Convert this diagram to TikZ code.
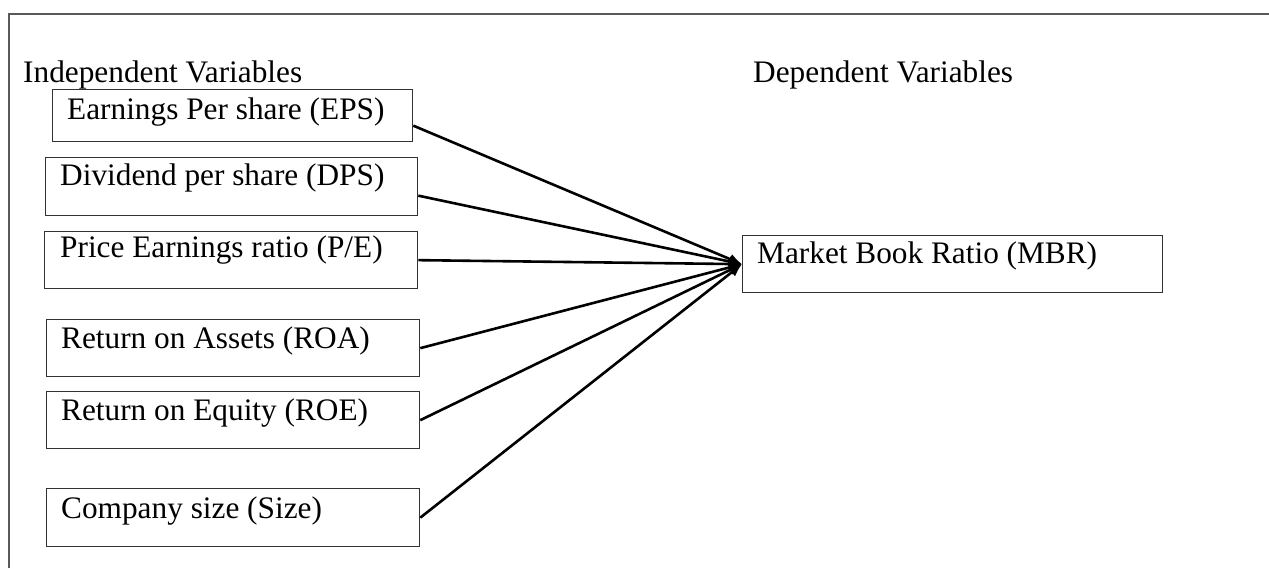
\documentclass[tikz,border=0pt]{standalone}
\usepackage{fontspec}
\setmainfont{Liberation Serif}
\usetikzlibrary{arrows.meta}
\begin{document}
\begin{tikzpicture}[x=1pt,y=-1pt,
  box/.style={draw=black!80, line width=1.3pt, rectangle, inner sep=0pt, anchor=north west},
  lbl/.style={inner sep=0pt, anchor=base west, font=\fontsize{31.3}{36}\selectfont},
  arr/.style={line width=2.6pt, -{Latex[length=13pt,width=11pt]}},
  frame/.style={draw=black!65, line width=1.6pt}]
\fill[white] (0,0) rectangle (1269,568);
\useasboundingbox (0,0) rectangle (1269,568);
% frame
\coordinate (ftl) at (9,14);
\coordinate (ftr) at (1269,14);
\coordinate (fbl) at (9,568);
\draw[frame] (fbl) -- (ftl) -- (ftr);
% headings
\node[lbl] (indep) at (23,82) {Independent Variables};
\node[lbl] (dep) at (753,82) {Dependent Variables};
% boxes
\node[box, minimum width=360pt, minimum height=52pt] (eps) at (52,89) {};
\node[lbl] (epst) at (67,119) {Earnings Per share (EPS)};
\node[box, minimum width=372pt, minimum height=58pt] (dps) at (45,157) {};
\node[lbl] (dpst) at (60,185) {Dividend per share (DPS)};
\node[box, minimum width=373pt, minimum height=57pt] (pe) at (44,231) {};
\node[lbl] (pet) at (60,257) {Price Earnings ratio (P/E)};
\node[box, minimum width=373pt, minimum height=57pt] (roa) at (46,319) {};
\node[lbl] (roat) at (61,348) {Return on Assets (ROA)};
\node[box, minimum width=373pt, minimum height=57pt] (roe) at (46,391) {};
\node[lbl] (roet) at (61,420) {Return on Equity (ROE)};
\node[box, minimum width=373pt, minimum height=58pt] (size) at (46,488) {};
\node[lbl] (sizet) at (61,518) {Company size (Size)};
\node[box, minimum width=420pt, minimum height=57pt] (mbr) at (742,235) {};
\node[lbl] (mbrt) at (757,263) {Market Book Ratio (MBR)};
% connectors
\draw[arr] ([yshift=-10pt]eps.east) -- (mbr.west);
\draw[arr] ([yshift=-9pt]dps.east) -- (mbr.west);
\draw[arr] (pe.east) -- (mbr.west);
\draw[arr] (roa.east) -- (mbr.west);
\draw[arr] (roe.east) -- (mbr.west);
\draw[arr] (size.east) -- (mbr.west);
\end{tikzpicture}
\end{document}
